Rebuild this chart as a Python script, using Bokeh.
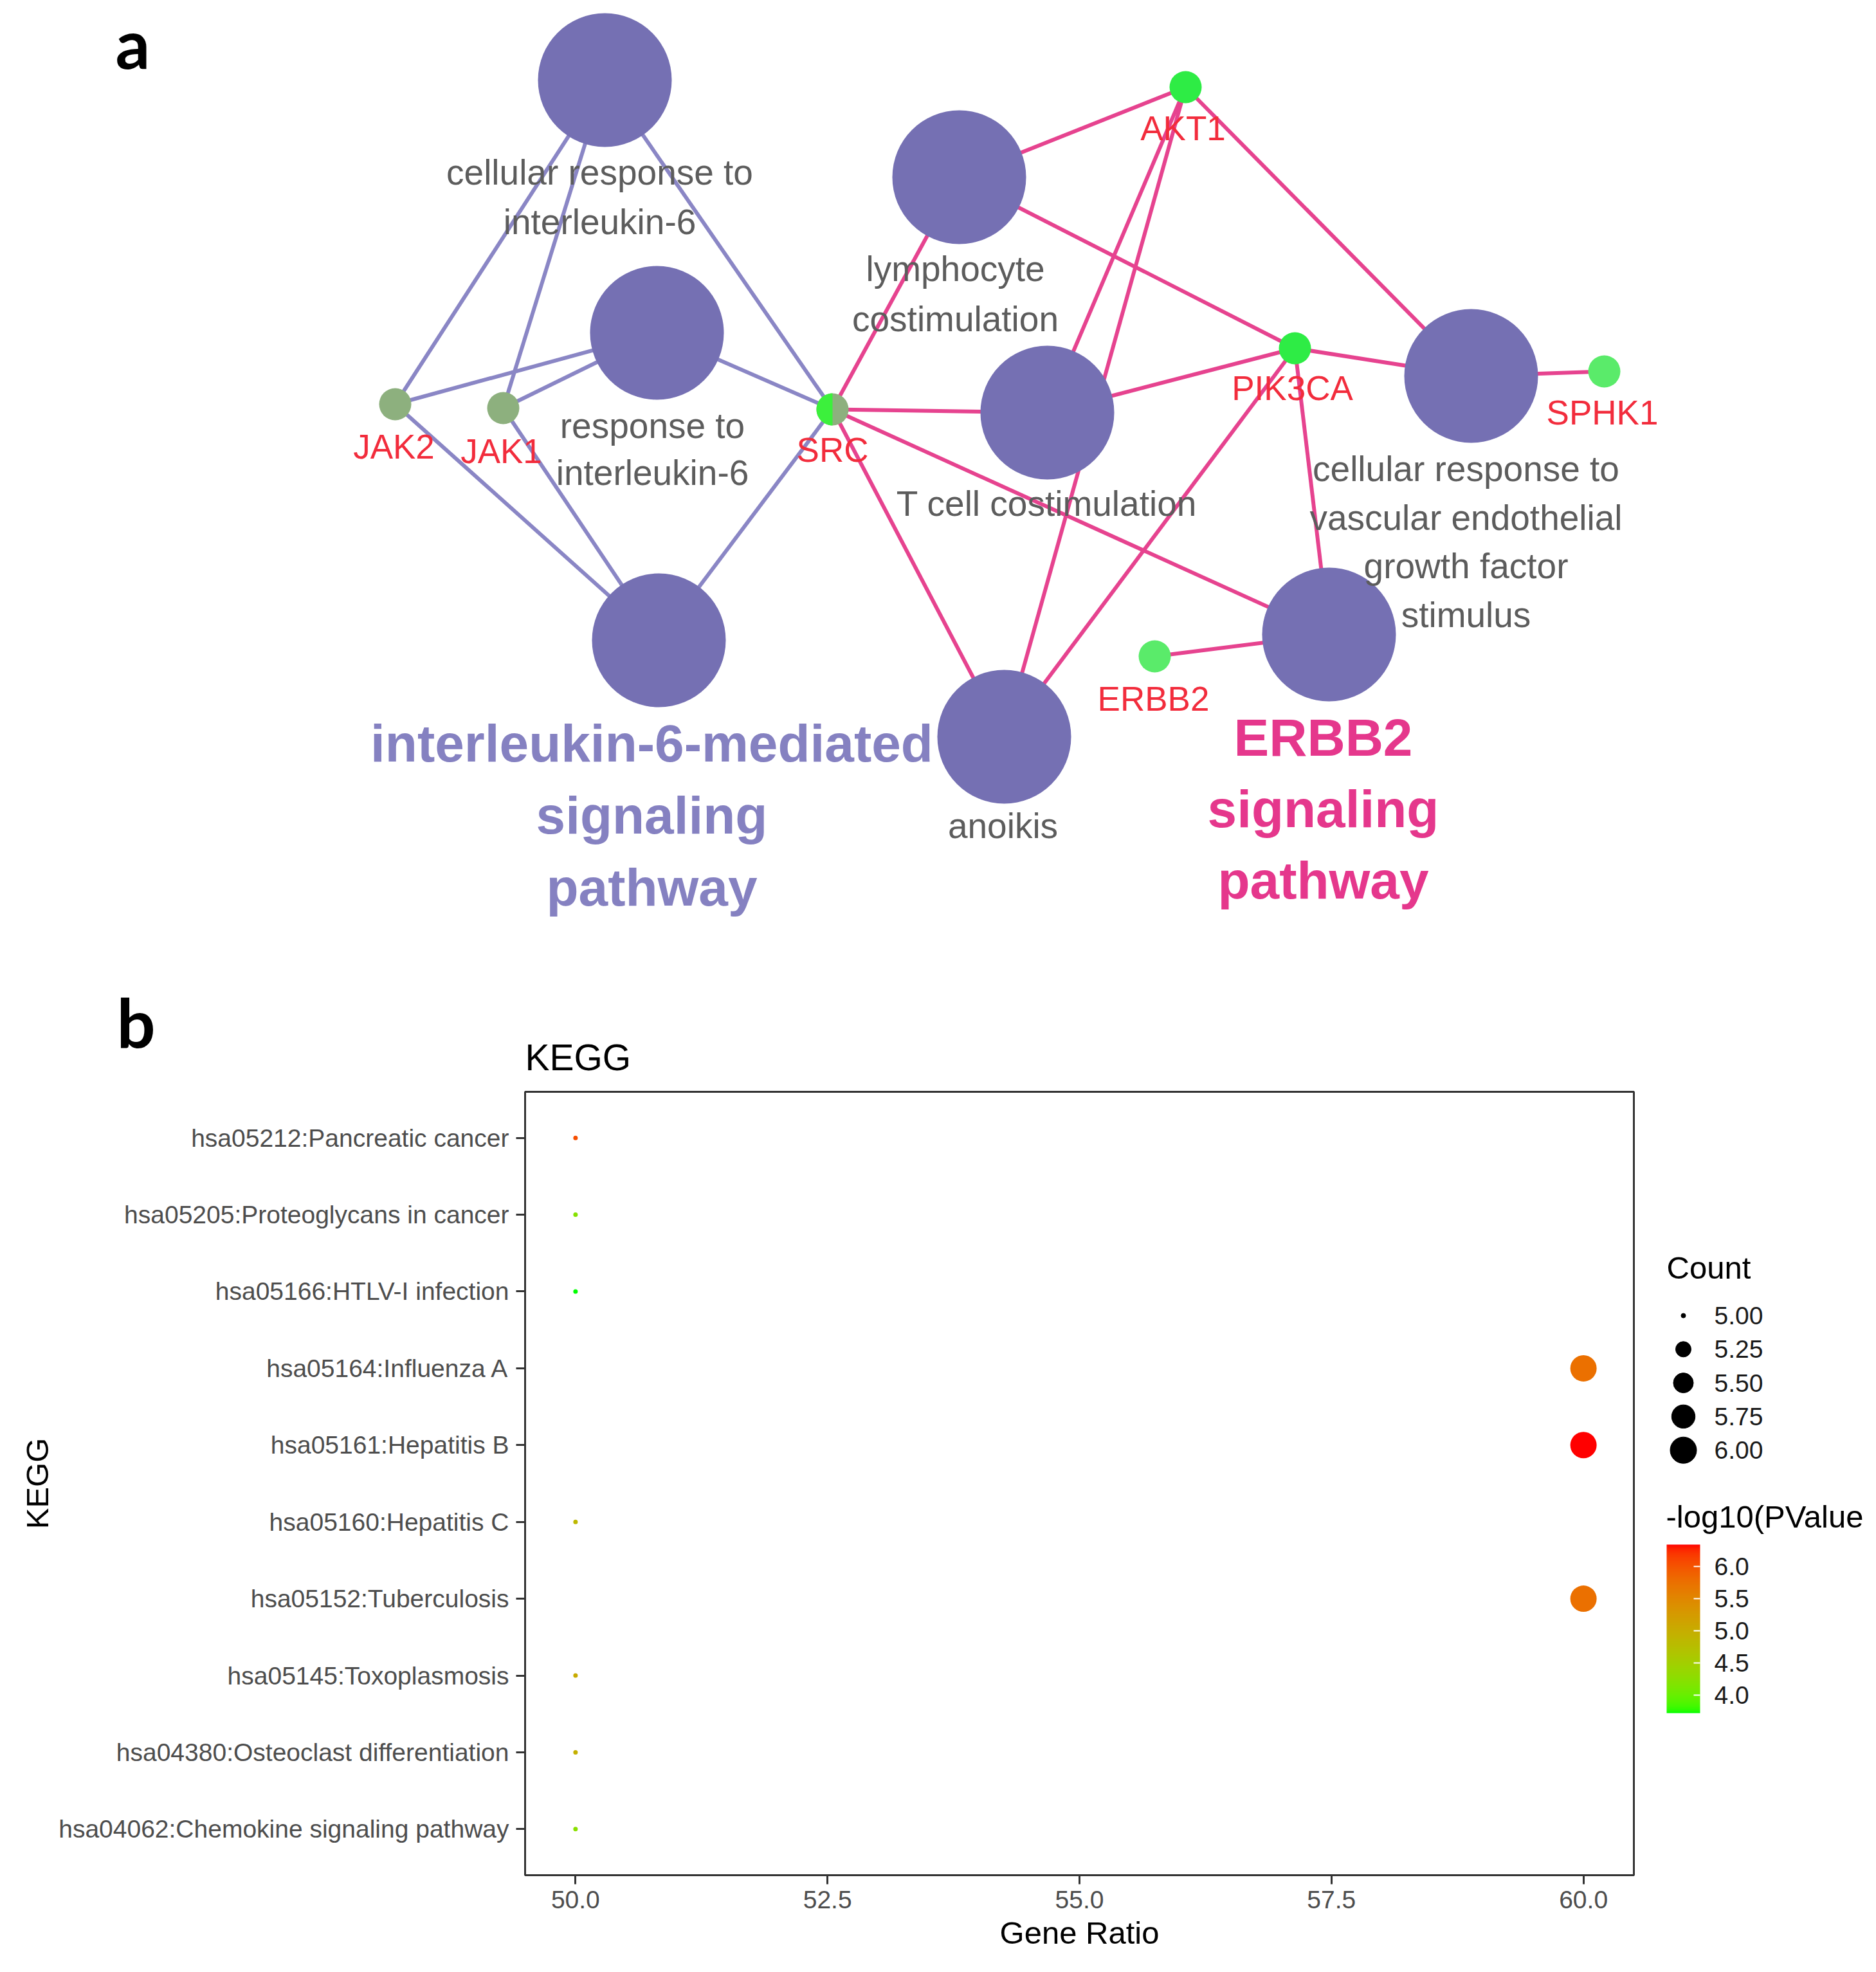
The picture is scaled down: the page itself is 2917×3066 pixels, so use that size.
import math
from bokeh.plotting import figure
from bokeh.models import (Range1d, FactorRange, FixedTicker, PrintfTickFormatter,
                          LinearColorMapper, ColorBar, ColumnDataSource)
from bokeh.layouts import column, row
from bokeh.core.properties import value
from bokeh.embed import file_html
from bokeh.resources import INLINE

# ------------------------------------------------------------------
# Panel a data : enrichment network (terms, genes, edges)
# ------------------------------------------------------------------
term_nodes = ["cellular response to interleukin-6", "lymphocyte costimulation",
              "response to interleukin-6", "T cell costimulation",
              "cellular response to vascular endothelial growth factor stimulus",
              "interleukin-6-mediated signaling pathway", "anoikis",
              "ERBB2 signaling pathway"]
gene_nodes = ["JAK2", "JAK1", "SRC", "AKT1", "PIK3CA", "SPHK1", "ERBB2"]
il6_edges = [("JAK2", "cellular response to interleukin-6"),
             ("JAK1", "cellular response to interleukin-6"),
             ("SRC", "cellular response to interleukin-6"),
             ("JAK2", "response to interleukin-6"),
             ("JAK1", "response to interleukin-6"),
             ("SRC", "response to interleukin-6"),
             ("JAK2", "interleukin-6-mediated signaling pathway"),
             ("JAK1", "interleukin-6-mediated signaling pathway"),
             ("SRC", "interleukin-6-mediated signaling pathway")]
erbb2_edges = [("SRC", "lymphocyte costimulation"), ("SRC", "T cell costimulation"),
               ("SRC", "anoikis"), ("SRC", "ERBB2 signaling pathway"),
               ("AKT1", "lymphocyte costimulation"), ("AKT1", "T cell costimulation"),
               ("AKT1", "anoikis"),
               ("AKT1", "cellular response to vascular endothelial growth factor stimulus"),
               ("PIK3CA", "lymphocyte costimulation"), ("PIK3CA", "T cell costimulation"),
               ("PIK3CA", "anoikis"),
               ("PIK3CA", "cellular response to vascular endothelial growth factor stimulus"),
               ("PIK3CA", "ERBB2 signaling pathway"),
               ("SPHK1", "cellular response to vascular endothelial growth factor stimulus"),
               ("ERBB2", "ERBB2 signaling pathway")]
term_label_lines = {
    "cellular response to interleukin-6": ["cellular response to", "interleukin-6"],
    "lymphocyte costimulation": ["lymphocyte", "costimulation"],
    "response to interleukin-6": ["response to", "interleukin-6"],
    "T cell costimulation": ["T cell costimulation"],
    "cellular response to vascular endothelial growth factor stimulus":
        ["cellular response to", "vascular endothelial", "growth factor", "stimulus"],
    "anoikis": ["anoikis"],
}
group_labels = {"il6": ["interleukin-6-mediated", "signaling", "pathway"],
                "erbb2": ["ERBB2", "signaling", "pathway"]}

# ------------------------------------------------------------------
# Panel b data : KEGG dot plot
# ------------------------------------------------------------------
kegg_title = "KEGG"
kegg_terms = ["hsa05212:Pancreatic cancer", "hsa05205:Proteoglycans in cancer",
              "hsa05166:HTLV-I infection", "hsa05164:Influenza A",
              "hsa05161:Hepatitis B", "hsa05160:Hepatitis C",
              "hsa05152:Tuberculosis", "hsa05145:Toxoplasmosis",
              "hsa04380:Osteoclast differentiation",
              "hsa04062:Chemokine signaling pathway"]
gene_ratio = [50.0, 50.0, 50.0, 60.0, 60.0, 50.0, 60.0, 50.0, 50.0, 50.0]
gene_count = [5, 5, 5, 6, 6, 5, 6, 5, 5, 5]
neg_log10_p = [6.05, 4.22, 3.72, 5.75, 6.34, 4.85, 5.75, 5.02, 4.95, 4.25]
x_ticks = [50.0, 52.5, 55.0, 57.5, 60.0]
count_breaks = [5.00, 5.25, 5.50, 5.75, 6.00]
p_breaks = [4.0, 4.5, 5.0, 5.5, 6.0]

# ------------------------------------------------------------------
# Layout (image pixel coordinates) and styles
# ------------------------------------------------------------------
node_pos = {
    "cellular response to interleukin-6": (940, 124),
    "lymphocyte costimulation": (1491, 275),
    "response to interleukin-6": (1021, 517),
    "T cell costimulation": (1628, 641),
    "cellular response to vascular endothelial growth factor stimulus": (2287, 584),
    "interleukin-6-mediated signaling pathway": (1024, 995),
    "anoikis": (1561, 1145),
    "ERBB2 signaling pathway": (2066, 986),
    "JAK2": (614, 628), "JAK1": (782, 634), "SRC": (1294, 636),
    "AKT1": (1843, 135), "PIK3CA": (2013, 541), "SPHK1": (2494, 577),
    "ERBB2": (1795, 1020),
}
term_label_pos = {  # (center x, first baseline, line step)
    "cellular response to interleukin-6": (932, 287, 77),
    "lymphocyte costimulation": (1485, 437, 78),
    "response to interleukin-6": (1014, 681, 73),
    "T cell costimulation": (1627, 802, 77),
    "cellular response to vascular endothelial growth factor stimulus": (2279, 748, 75.5),
    "anoikis": (1559, 1303, 77),
}
gene_label_pos = {"JAK2": (612, 713), "JAK1": (779, 720), "SRC": (1294, 718),
                  "AKT1": (1839, 218), "PIK3CA": (2009, 622), "SPHK1": (2491, 660),
                  "ERBB2": (1793, 1105)}
group_label_pos = {"il6": (1013, 1184, 112), "erbb2": (2057, 1175, 111)}
BASE_SHIFT = 0.35  # em correction so that glyph baselines land where measured

TERM_COLOR = "#7570b3"
IL6_EDGE = "#8a86c5"
ERBB2_EDGE = "#e6438f"
IL6_TEXT = "#8581c1"
ERBB2_TEXT = "#e5378c"
GENE_TEXT = "#f22c3c"
TERM_TEXT = "#5c5c5c"
gene_color = {"JAK2": "#8db07e", "JAK1": "#8db07e", "SRC": "#8db07e",
              "AKT1": "#2eec45", "PIK3CA": "#2eec45",
              "SPHK1": "#5aeb6a", "ERBB2": "#5aeb6a"}
SRC_LEFT = "#3cf03c"
FONT = "Liberation Sans"

PAGE_W = 2901
A_BOTTOM = 1690
B_BOTTOM = 3050
TERM_R, GENE_R = 104, 25
FS_TERM, FS_GENE, FS_GROUP, FS_PANEL, FS_TITLE = 55, 53, 82, 106, 57


def by(y, fs):
    return y - BASE_SHIFT * fs

# ------------------------------------------------------------------
# Panel a figure (also carries the panel letters and the KEGG title)
# ------------------------------------------------------------------
pa = figure(width=PAGE_W, height=A_BOTTOM,
            x_range=Range1d(0, PAGE_W), y_range=Range1d(A_BOTTOM, 0),
            x_axis_location=None, y_axis_location=None, toolbar_location=None,
            output_backend="svg", min_border=0, outline_line_color=None)
pa.grid.visible = False

for edges, col in ((il6_edges, IL6_EDGE), (erbb2_edges, ERBB2_EDGE)):
    pa.segment(x0=[node_pos[g][0] for g, t in edges], y0=[node_pos[g][1] for g, t in edges],
               x1=[node_pos[t][0] for g, t in edges], y1=[node_pos[t][1] for g, t in edges],
               line_color=col, line_width=6)

gx, gy, gt, gc = [], [], [], []
for key, col in (("il6", IL6_TEXT), ("erbb2", ERBB2_TEXT)):
    cx, y0, step = group_label_pos[key]
    for i, line in enumerate(group_labels[key]):
        gx.append(cx); gy.append(by(y0 + i * step, FS_GROUP)); gt.append(line); gc.append(col)
pa.text(x=gx, y=gy, text=gt, text_color=gc, text_align="center",
        text_baseline="alphabetic", text_font=value(FONT), text_font_style="bold",
        text_font_size="%dpx" % FS_GROUP)

pa.circle(x=[node_pos[t][0] for t in term_nodes], y=[node_pos[t][1] for t in term_nodes],
          radius=TERM_R, fill_color=TERM_COLOR, line_color=None)
pa.circle(x=[node_pos[g][0] for g in gene_nodes], y=[node_pos[g][1] for g in gene_nodes],
          radius=GENE_R, fill_color=[gene_color[g] for g in gene_nodes], line_color=None)
# SRC belongs to both clusters: left half drawn in the bright gene colour
sx, sy = node_pos["SRC"]
half = [math.pi / 2 + math.pi * k / 40 for k in range(41)]
pa.patch(x=[sx + GENE_R * math.cos(a) for a in half],
         y=[sy + GENE_R * math.sin(a) for a in half],
         fill_color=SRC_LEFT, line_color=None)

tx, ty, tt = [], [], []
for t, lines in term_label_lines.items():
    cx, y0, step = term_label_pos[t]
    for i, line in enumerate(lines):
        tx.append(cx); ty.append(by(y0 + i * step, FS_TERM)); tt.append(line)
pa.text(x=tx, y=ty, text=tt, text_color=TERM_TEXT, text_align="center",
        text_baseline="alphabetic", text_font=value(FONT), text_font_size="%dpx" % FS_TERM)

pa.text(x=[gene_label_pos[g][0] for g in gene_nodes],
        y=[by(gene_label_pos[g][1], FS_GENE) for g in gene_nodes], text=gene_nodes,
        text_color=GENE_TEXT, text_align="center", text_baseline="alphabetic",
        text_font=value(FONT), text_font_size="%dpx" % FS_GENE)

pa.text(x=[206, 211], y=[by(103, FS_PANEL), by(1625, FS_PANEL)], text=["a", "b"],
        text_color="black", text_align="center", text_baseline="alphabetic",
        text_font=value("Lato"), text_font_style="bold", text_font_size="%dpx" % FS_PANEL)
pa.text(x=[816], y=[by(1663, FS_TITLE)], text=[kegg_title], text_color="black",
        text_align="left", text_baseline="alphabetic", text_font=value(FONT),
        text_font_size="%dpx" % FS_TITLE)

# ------------------------------------------------------------------
# Colour scale: ggplot-like green -> red gradient interpolated in CIELAB
# ------------------------------------------------------------------
def _to_lin(c):
    c = c / 255.0
    return c / 12.92 if c <= 0.04045 else ((c + 0.055) / 1.055) ** 2.4


def _from_lin(c):
    c = 12.92 * c if c <= 0.0031308 else 1.055 * c ** (1 / 2.4) - 0.055
    return max(0, min(255, round(c * 255)))


WHITE = (0.95047, 1.0, 1.08883)


def rgb2lab(rgb):
    r, g, b = (_to_lin(v) for v in rgb)
    X = 0.4124 * r + 0.3576 * g + 0.1805 * b
    Y = 0.2126 * r + 0.7152 * g + 0.0722 * b
    Z = 0.0193 * r + 0.1192 * g + 0.9505 * b
    d = 6 / 29

    def f(t):
        return t ** (1 / 3) if t > d ** 3 else t / (3 * d * d) + 4 / 29
    fx, fy, fz = f(X / WHITE[0]), f(Y / WHITE[1]), f(Z / WHITE[2])
    return 116 * fy - 16, 500 * (fx - fy), 200 * (fy - fz)


def lab2hex(lab):
    L, a, b = lab
    d = 6 / 29
    fy = (L + 16) / 116
    fx, fz = fy + a / 500, fy - b / 200

    def finv(t):
        return t ** 3 if t > d else 3 * d * d * (t - 4 / 29)
    X, Y, Z = WHITE[0] * finv(fx), WHITE[1] * finv(fy), WHITE[2] * finv(fz)
    r = 3.2406 * X - 1.5372 * Y - 0.4986 * Z
    g = -0.9689 * X + 1.8758 * Y + 0.0415 * Z
    bb = 0.0557 * X - 0.2040 * Y + 1.0570 * Z
    return "#%02x%02x%02x" % tuple(_from_lin(max(0.0, min(1.0, v))) for v in (r, g, bb))


lab_lo, lab_hi = rgb2lab((0, 255, 0)), rgb2lab((255, 0, 0))
palette = [lab2hex(tuple(lo + (hi - lo) * i / 255 for lo, hi in zip(lab_lo, lab_hi)))
           for i in range(256)]
mapper = LinearColorMapper(palette=palette, low=min(neg_log10_p), high=max(neg_log10_p))

# size scale like ggplot scale_size (area): diameter rescaled from sqrt
D_MIN, D_MAX = 7, 41
c_lo, c_hi = min(gene_count), max(gene_count)


def dot_size(c):
    return D_MIN + (D_MAX - D_MIN) * math.sqrt((c - c_lo) / (c_hi - c_lo))

# ------------------------------------------------------------------
# Panel b figure (dot plot)
# ------------------------------------------------------------------
FRAME_L, FRAME_R, FRAME_T, FRAME_B = 816, 2540, 1697, 2915
B_RIGHT = 2560
pb = figure(frame_width=FRAME_R - FRAME_L, frame_height=FRAME_B - FRAME_T,
            min_border_left=FRAME_L, min_border_right=B_RIGHT - FRAME_R,
            min_border_top=FRAME_T - A_BOTTOM, min_border_bottom=B_BOTTOM - FRAME_B,
            x_range=Range1d(49.5, 60.5),
            y_range=FactorRange(factors=kegg_terms[::-1], range_padding=0.1,
                                range_padding_units="absolute"),
            toolbar_location=None, output_backend="svg",
            x_axis_label="Gene Ratio", y_axis_label="KEGG")
pb.grid.visible = False
pb.outline_line_color = "#333333"
pb.outline_line_width = 3
pb.xaxis.ticker = FixedTicker(ticks=x_ticks)
pb.xaxis.formatter = PrintfTickFormatter(format="%.1f")
for ax in (pb.xaxis, pb.yaxis):
    ax.axis_line_color = None
    ax.major_tick_line_color = "#333333"
    ax.major_tick_line_width = 3
    ax.major_tick_out = 14
    ax.major_tick_in = 0
    ax.minor_tick_line_color = None
    ax.major_label_text_font = FONT
    ax.major_label_text_font_size = "39px"
    ax.major_label_text_color = "#4d4d4d"
    ax.axis_label_text_font = FONT
    ax.axis_label_text_font_size = "49px"
    ax.axis_label_text_font_style = "normal"
    ax.axis_label_text_color = "black"
pb.xaxis.major_label_standoff = 10
pb.xaxis.axis_label_standoff = 8
pb.yaxis.major_label_standoff = 11
pb.yaxis.axis_label_standoff = 3

src = ColumnDataSource(dict(term=kegg_terms, ratio=gene_ratio, count=gene_count,
                            p=neg_log10_p, size=[dot_size(c) for c in gene_count]))
pb.scatter(x="ratio", y="term", size="size", source=src,
           fill_color={"field": "p", "transform": mapper}, line_color=None)

# ------------------------------------------------------------------
# Legend figure (size legend + colour bar); same frame height as pb
# ------------------------------------------------------------------
pl = figure(frame_width=PAGE_W - B_RIGHT, frame_height=FRAME_B - FRAME_T,
            min_border_left=0, min_border_right=0,
            min_border_top=FRAME_T - A_BOTTOM, min_border_bottom=B_BOTTOM - FRAME_B,
            x_range=Range1d(B_RIGHT, PAGE_W), y_range=Range1d(FRAME_B, FRAME_T),
            x_axis_location=None, y_axis_location=None, toolbar_location=None,
            output_backend="svg", outline_line_color=None)
pl.grid.visible = False

LEG_X, LEG_Y0, LEG_STEP = 2617, 2045, 52.3
leg_y = [LEG_Y0 + i * LEG_STEP for i in range(len(count_breaks))]
pl.text(x=[2591], y=[1970], text=["Count"], text_font=value(FONT), text_font_size="49px",
        text_color="black", text_align="left", text_baseline="middle")
pl.scatter(x=[LEG_X] * len(count_breaks), y=leg_y,
           size=[dot_size(c) for c in count_breaks], color="black")
pl.text(x=[2665] * len(count_breaks), y=leg_y, text=["%.2f" % c for c in count_breaks],
        text_font=value(FONT), text_font_size="39px", text_color="#1a1a1a",
        text_align="left", text_baseline="middle")
pl.text(x=[2590], y=[2357], text=["-log10(PValue"], text_font=value(FONT),
        text_font_size="49px", text_color="black", text_align="left", text_baseline="middle")

cb = ColorBar(color_mapper=mapper, ticker=FixedTicker(ticks=p_breaks),
              formatter=PrintfTickFormatter(format="%.1f"),
              width=52, height=262, padding=0,
              location=(2591 - B_RIGHT, FRAME_B - 2663),
              major_label_text_font=FONT, major_label_text_font_size="39px",
              major_label_text_color="#1a1a1a", label_standoff=22,
              major_tick_in=10, major_tick_out=0, major_tick_line_color="white",
              major_tick_line_width=2, minor_tick_line_color=None,
              bar_line_color=None, border_line_color=None, background_fill_color=None)
pl.add_layout(cb, "center")

layout = column(pa, row(pb, pl))
open("out.html", "w").write(file_html(layout, INLINE))
